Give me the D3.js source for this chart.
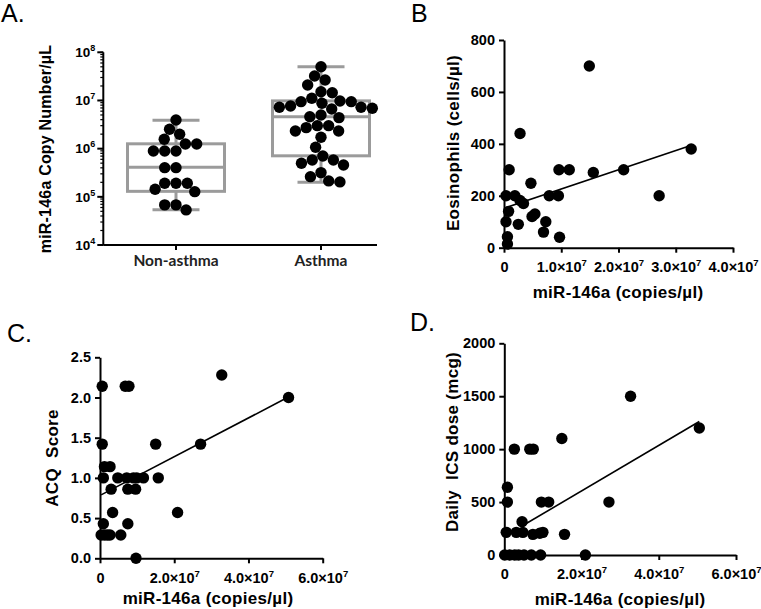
<!DOCTYPE html>
<html><head><meta charset="utf-8">
<script src="https://cdn.jsdelivr.net/npm/d3@7"></script>
<style>
html,body{margin:0;padding:0;background:#fff;}
svg{display:block;font-family:"Liberation Sans",Arial,sans-serif;}
</style></head>
<body><svg id="c" width="761" height="609"></svg>
<script>
// ---------- DATA ----------
// Panel A: miR-146a copy number / µL
const groupsA = ["Non-asthma", "Asthma"];
const nonAsthmaVals = [3.94e6, 2.53e6, 1.99e6, 1.57e6, 1.25e6, 1.25e6, 8.96e5, 8.96e5, 8.96e5,
  4.03e5, 4.03e5, 1.92e5, 1.92e5, 1.92e5, 1.28e5, 1.44e5, 6.8e4, 6.8e4, 5.35e4];
const asthmaVals = [5.02e7, 3.22e7, 2.66e7, 2.10e7, 1.45e7, 1.52e7, 1.11e7, 9.77e6, 8.75e6, 7.70e6,
  9.45e6, 9.45e6, 7.22e6, 6.89e6, 6.66e6, 7.22e6, 5.0e6, 4.40e6, 4.61e6, 3.0e6, 3.0e6, 2.33e6,
  2.33e6, 2.73e6, 1.72e6, 1.07e6, 5.83e5, 4.98e5, 4.59e5, 5.83e5, 7.06e5, 3.18e5, 2.62e5, 2.04e5, 2.14e5];
// box stats: [min, q1, median, q3, max]
const nonAsthmaBox = [5.4e4, 1.3e5, 4.1e5, 1.26e6, 3.9e6];
const asthmaBox = [2.0e5, 7.1e5, 4.6e6, 9.8e6, 5.0e7];
const yTicksA = [1e4, 1e5, 1e6, 1e7, 1e8];

// Panel B: eosinophils vs miR-146a
const bX = [1.49e7, 0.28e7, 3.27e7, 0.09e7, 0.96e7, 1.14e7, 1.56e7, 2.09e7, 2.71e7, 0.035e7, 0.19e7,
  0.28e7, 0.34e7, 0.47e7, 0.79e7, 0.95e7, 0.08e7, 0.035e7, 0.25e7, 0.49e7, 0.54e7, 0.73e7, 0.69e7,
  0.97e7, 0.06e7, 0.06e7];
const bY = [700, 440, 380, 300, 300, 300, 290, 300, 200, 200, 200,
  182, 170, 248, 200, 200, 140, 100, 90, 120, 130, 100, 60,
  40, 42, 14];
const fitB = [0.03e7, 3.25e7, 152, 74e-7]; // x0, x1, intercept, slope
const xTicksB = [0, 1e7, 2e7, 3e7, 4e7];
const yTicksB = [0, 200, 400, 600, 800];

// Panel C: ACQ score vs miR-146a
const cX = [0.06e7, 0.68e7, 0.78e7, 3.28e7, 5.08e7, 0.06e7, 1.50e7, 2.71e7, 0.12e7, 0.27e7,
  0.09e7, 0.48e7, 0.72e7, 0.90e7, 0.99e7, 1.17e7, 1.57e7, 0.30e7, 0.75e7, 0.96e7,
  0.34e7, 2.09e7, 0.09e7, 0.75e7, 0.03e7, 0.12e7, 0.20e7, 0.27e7, 0.56e7, 0.97e7];
const cY = [2.14, 2.14, 2.14, 2.28, 2.00, 1.42, 1.42, 1.42, 1.14, 1.14,
  1.00, 1.00, 1.00, 1.00, 1.00, 1.00, 1.00, 0.86, 0.86, 0.86,
  0.57, 0.57, 0.43, 0.43, 0.29, 0.29, 0.29, 0.29, 0.29, 0.00];
const fitC = [0.03e7, 5.05e7, 0.782, 0.241e-7];
const xTicksC = [0, 2e7, 4e7, 6e7];
const yTicksC = [0, 0.5, 1.0, 1.5, 2.0, 2.5];

// Panel D: daily ICS dose vs miR-146a
const dX = [3.27e7, 5.05e7, 1.49e7, 0.26e7, 0.66e7, 0.75e7, 0.08e7, 0.08e7, 0.96e7, 1.15e7, 2.71e7,
  0.46e7, 0.05e7, 0.31e7, 0.48e7, 0.74e7, 0.92e7, 1.0e7, 1.56e7,
  0.01e7, 0.14e7, 0.27e7, 0.37e7, 0.51e7, 0.70e7, 0.94e7, 2.10e7];
const dY = [1500, 1200, 1100, 1000, 1000, 1000, 640, 500, 500, 500, 500,
  315, 214, 214, 214, 195, 205, 214, 195,
  0, 0, 0, 0, 0, 0, 0, 0];
const fitD = [0.48e7, 5.05e7, 175, 215e-7];
const xTicksD = [0, 2e7, 4e7, 6e7];
const yTicksD = [0, 500, 1000, 1500, 2000];

// ---------- DRAW ----------
const svg = d3.select("#c");
const FONT = '"Liberation Sans", Arial, sans-serif';
const R = 5.7;

function sciLabel(textSel, v) {
  textSel.text(null);
  if (v === 0) { textSel.text("0"); return; }
  const e = Math.floor(Math.log10(v) + 1e-9);
  const m = v / Math.pow(10, e);
  textSel.append("tspan").text(m.toFixed(1) + "\u00d710");
  textSel.append("tspan").attr("font-size", 9.5).attr("dy", -6).text(e);
}

function panelLetter(txt, x, y) {
  svg.append("text").attr("x", x).attr("y", y).attr("font-size", 25)
    .attr("font-family", FONT).attr("fill", "#000").text(txt);
}

function scatterPanel(o) {
  const x = d3.scaleLinear().domain(o.xd).range(o.xr);
  const y = d3.scaleLinear().domain(o.yd).range(o.yr);
  const g = svg.append("g");
  // dots
  g.selectAll("circle").data(o.xs.map((v, i) => [v, o.ys[i]])).join("circle")
    .attr("cx", d => x(d[0])).attr("cy", d => y(d[1])).attr("r", R).attr("fill", "#000");
  // fit line
  const f = o.fit;
  g.append("line").attr("x1", x(f[0])).attr("y1", y(f[2] + f[3] * f[0]))
    .attr("x2", x(f[1])).attr("y2", y(f[2] + f[3] * f[1]))
    .attr("stroke", "#000").attr("stroke-width", 1.6);
  // axes
  const ax = g.append("g").attr("transform", `translate(0,${o.yr[0]})`)
    .call(d3.axisBottom(x).tickValues(o.xt).tickSize(5).tickSizeOuter(0).tickPadding(9));
  ax.selectAll(".tick text").each(function (d) { sciLabel(d3.select(this), d); });
  const ay = g.append("g").attr("transform", `translate(${o.xr[0]},0)`)
    .call(d3.axisLeft(y).tickValues(o.yt).tickSize(5).tickSizeOuter(0).tickPadding(4).tickFormat(o.yf));
  [ax, ay].forEach(a => {
    a.select(".domain").attr("stroke-width", 2);
    a.selectAll(".tick line").attr("stroke-width", 2);
    a.selectAll("text").attr("font-size", 14.5).attr("font-weight", "bold")
      .attr("font-family", FONT).attr("fill", "#000");
  });
  // titles
  g.append("text").attr("x", o.xtPos[0]).attr("y", o.xtPos[1]).attr("text-anchor", "middle")
    .attr("font-size", 17).attr("letter-spacing", 0.3).attr("font-weight", "bold")
    .attr("font-family", FONT).text(o.xTitle);
  g.append("text").attr("transform", `translate(${o.ytPos[0]},${o.ytPos[1]}) rotate(-90)`)
    .attr("text-anchor", "middle").attr("dy", "0.35em").style("white-space", "pre")
    .attr("font-size", 17).attr("letter-spacing", 0.3).attr("font-weight", "bold")
    .attr("font-family", FONT).text(o.yTitle);
}

// ---- Panel A ----
(function () {
  const y = d3.scaleLog().domain([1e4, 1e8]).range([245, 52.3]);
  const x = d3.scalePoint().domain(groupsA).range([176, 321]);
  const g = svg.append("g");
  const boxes = [nonAsthmaBox, asthmaBox];
  const vals = [nonAsthmaVals, asthmaVals];
  const boxHalf = 48.5, capHalf = 23.5, grey = "#9b9b9b";
  groupsA.forEach((cat, i) => {
    const cx = x(cat), b = boxes[i];
    const bg = g.append("g").attr("stroke", grey).attr("stroke-width", 3).attr("fill", "none");
    bg.append("line").attr("x1", cx).attr("x2", cx).attr("y1", y(b[0])).attr("y2", y(b[1]));
    bg.append("line").attr("x1", cx).attr("x2", cx).attr("y1", y(b[3])).attr("y2", y(b[4]));
    bg.append("line").attr("x1", cx - capHalf).attr("x2", cx + capHalf).attr("y1", y(b[0])).attr("y2", y(b[0]));
    bg.append("line").attr("x1", cx - capHalf).attr("x2", cx + capHalf).attr("y1", y(b[4])).attr("y2", y(b[4]));
    bg.append("rect").attr("x", cx - boxHalf).attr("width", 2 * boxHalf)
      .attr("y", y(b[3])).attr("height", y(b[1]) - y(b[3]));
    bg.append("line").attr("x1", cx - boxHalf).attr("x2", cx + boxHalf).attr("y1", y(b[2])).attr("y2", y(b[2]));
    // beeswarm
    const d = 2 * R - 0.1;
    const pts = vals[i].map(v => ({ y: y(v) })).sort((a, b2) => a.y - b2.y);
    const placed = [];
    pts.forEach(p => {
      const cands = [0];
      placed.forEach(q => {
        const dy = Math.abs(q.y - p.y);
        if (dy < d) { const dx = Math.sqrt(d * d - dy * dy); cands.push(q.off + dx, q.off - dx); }
      });
      cands.sort((a, c) => Math.abs(a) - Math.abs(c) || a - c);
      for (const c of cands) {
        if (placed.every(q => (q.off - c) ** 2 + (q.y - p.y) ** 2 >= d * d - 1e-6)) { p.off = c; break; }
      }
      placed.push(p);
    });
    g.append("g").selectAll("circle").data(placed).join("circle")
      .attr("cx", p => cx + p.off).attr("cy", p => p.y).attr("r", R).attr("fill", "#000");
  });
  // x axis
  g.append("line").attr("x1", 103.3).attr("x2", 377).attr("y1", 245).attr("y2", 245)
    .attr("stroke", "#000").attr("stroke-width", 2);
  groupsA.forEach(cat => {
    g.append("line").attr("x1", x(cat)).attr("x2", x(cat)).attr("y1", 245).attr("y2", 250)
      .attr("stroke", "#000").attr("stroke-width", 2);
    g.append("text").attr("x", x(cat)).attr("y", 265.5).attr("text-anchor", "middle")
      .attr("font-family", "Lato, sans-serif").attr("font-weight", "bold").attr("font-size", 15.5)
      .attr("fill", "#222").text(cat);
  });
  // y axis with minor ticks
  const ay = g.append("g").attr("transform", "translate(103.3,0)");
  ay.append("line").attr("y1", y(1e4)).attr("y2", y(1e8)).attr("stroke", "#000").attr("stroke-width", 2);
  ay.selectAll("line.minor").data(y.ticks()).join("line").attr("class", "minor")
    .attr("x1", -3).attr("x2", 0).attr("y1", d => y(d)).attr("y2", d => y(d))
    .attr("stroke", "#000").attr("stroke-width", 1.2);
  ay.selectAll("line.major").data(yTicksA).join("line").attr("class", "major")
    .attr("x1", -6).attr("x2", 0).attr("y1", d => y(d)).attr("y2", d => y(d))
    .attr("stroke", "#000").attr("stroke-width", 2);
  ay.selectAll("text").data(yTicksA).join("text")
    .attr("x", -8).attr("y", d => y(d)).attr("dy", "0.35em").attr("text-anchor", "end")
    .attr("font-size", 13.5).attr("font-weight", "bold").attr("font-family", FONT)
    .each(function (d) {
      const t = d3.select(this);
      t.append("tspan").text("10");
      t.append("tspan").attr("font-size", 9).attr("dy", -6).text(Math.round(Math.log10(d)));
    });
  g.append("text").attr("transform", "translate(45,149) rotate(-90)").attr("text-anchor", "middle")
    .attr("dy", "0.35em").attr("font-size", 16).attr("letter-spacing", 0.2).attr("font-weight", "bold")
    .attr("font-family", FONT).text("miR-146a Copy Number/\u00b5L");
})();

scatterPanel({ xs: bX, ys: bY, fit: fitB, xd: [0, 4e7], xr: [504, 733], yd: [0, 800], yr: [247.7, 40],
  xt: xTicksB, yt: yTicksB, yf: d3.format("d"), xTitle: "miR-146a (copies/\u00b5l)", xtPos: [618, 297.5],
  yTitle: "Eosinophils (cells/\u00b5l)", ytPos: [453, 143] });
scatterPanel({ xs: cX, ys: cY, fit: fitC, xd: [0, 6e7], xr: [100, 322.7], yd: [0, 2.5], yr: [558.3, 357.3],
  xt: xTicksC, yt: yTicksC, yf: d3.format(".1f"), xTitle: "miR-146a (copies/\u00b5l)", xtPos: [208, 603.5],
  yTitle: "ACQ  Score", ytPos: [51.7, 458] });
scatterPanel({ xs: dX, ys: dY, fit: fitD, xd: [0, 6e7], xr: [504.3, 736], yd: [0, 2000], yr: [555, 343.3],
  xt: xTicksD, yt: yTicksD, yf: d3.format("d"), xTitle: "miR-146a (copies/\u00b5l)", xtPos: [620, 604.5],
  yTitle: "Daily  ICS dose (mcg)", ytPos: [451.7, 442] });

panelLetter("A.", 1, 21.7);
panelLetter("B", 411, 21.7);
panelLetter("C.", 7, 341.7);
panelLetter("D.", 410, 330.5);
</script></body></html>
